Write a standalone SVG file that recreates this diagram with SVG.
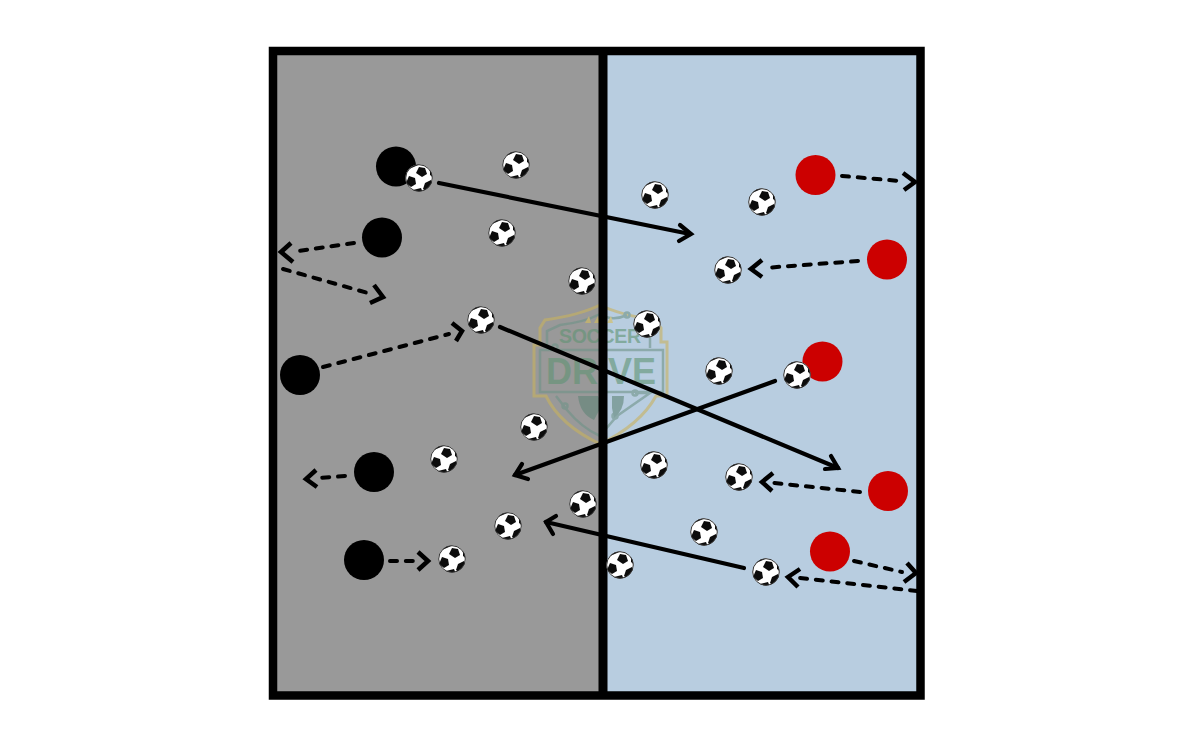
<svg xmlns="http://www.w3.org/2000/svg" width="1200" height="750" viewBox="0 0 1200 750">
<style>
.solid{fill:none;stroke:#000;stroke-width:4.2;stroke-linecap:round;stroke-linejoin:miter}
.dash{fill:none;stroke:#000;stroke-width:4;stroke-dasharray:7 8.8;stroke-linecap:round}
.head{fill:none;stroke:#000;stroke-width:4.5;stroke-linejoin:miter}
.blk{fill:#000}
.red{fill:#cc0000}
.lg{fill:none;stroke:#c9b25e;stroke-width:3}
.lb{fill:none;stroke:#6f9488;stroke-width:2.5}
.lt{font-family:"Liberation Sans",Arial,sans-serif;font-weight:700;fill:#5f9373}
</style>
<defs>
<clipPath id="bc"><circle r="13.5"/></clipPath>
<g id="ball">
<circle r="13.5" fill="#fff"/>
<g clip-path="url(#bc)" fill="#0c0c0c">
<polygon points="0,-11 6,-10 8,-4 3,-1 -3,-5"/>
<polygon points="-10,-2 -4,0 -3,6 -8,9 -13,5"/>
<polygon points="6,5 12,2 15,9 9,15 4,11"/>
<polygon points="-6,-15 2,-15 -3,-12 -10,-9"/>
<polygon points="-6,12 2,10 4,15 -5,16"/>
<polygon points="11,-11 15,-8 15,0 11,-3"/>
</g>
<circle r="13.3" fill="none" stroke="#333" stroke-width="1"/>
</g>
</defs>
<rect width="1200" height="750" fill="#fff"/>
<rect x="273" y="51" width="330" height="645" fill="#999"/>
<rect x="603" y="51" width="317" height="645" fill="#b8cde0"/>
<g id="logo" opacity="0.6">
<path class="lg" d="M545 320Q580 315 600 305Q620 315 655 320L661 328V342H667V396H656Q640 425 600 444Q560 425 546 396H534V345H540V328Z"/>
<path class="lb" d="M547 348V331L560 325Q585 322 600 314Q612 322 627 315M650 348V331L640 326"/>
<rect class="lb" x="540" y="350" width="123" height="42"/>
<path class="lb" d="M556 396L567 410Q582 428 600 436M635 393H650L617 416L605 430"/>
<circle class="lb" cx="555" cy="347" r="2.5"/><circle class="lb" cx="627" cy="315" r="2.5"/>
<circle class="lb" cx="635" cy="393" r="2.5"/><circle class="lb" cx="565" cy="406" r="2.5"/><circle class="lb" cx="615" cy="416" r="2.5"/>
<path d="M578 396H598L602 405L594 420Q580 414 578 396ZM612 396H624Q624 410 614 418L612 408Z" fill="#5f8577"/>
<text class="lt" x="559" y="343" font-size="19.5" textLength="82">SOCCER</text>
<text class="lt" x="546" y="384" font-size="36" textLength="110">DRIVE</text>
<polygon points="589,316 591,323 585,323" fill="#d8bf5a"/>
<polygon points="598,316 600,323 594,323" fill="#d8bf5a"/>
<polygon points="611,316 613,323 607,323" fill="#d8bf5a"/>
</g>
<g id="field" fill="none" stroke="#000">
<rect x="273" y="51" width="647.5" height="644.5" stroke-width="8.5"/>
<line x1="603" y1="51" x2="603" y2="696" stroke-width="9"/>
</g>
<g id="connectors">
<path class="solid" d="M439 183L690 234"/><path class="solid" d="M680 225L691 234L679 241"/>
<path class="solid" d="M500 327L838 468"/><path class="solid" d="M825 469L838 468L831 456"/>
<path class="solid" d="M775 381L515 475"/><path class="solid" d="M522 464L515 475L528 479"/>
<path class="solid" d="M744 568L546 522"/><path class="solid" d="M556 516L546 522L553 534"/>
<path class="dash" d="M842 176L900 181"/><path class="head" d="M903 173L915 182L904 190"/>
<path class="dash" d="M858 261L764 268"/><path class="head" d="M762 260L751 269L762 277"/>
<path class="dash" d="M860 492L774 483"/><path class="head" d="M773 473L762 482L772 491"/>
<path class="dash" d="M854 561L902 572"/><path class="head" d="M907 563L916 573L904 582"/>
<path class="dash" d="M917 591L800 578"/><path class="head" d="M800 569L788 577L798 587"/>
<path class="dash" d="M354 243L298 251"/><path class="head" d="M291 243L281 252L293 262"/>
<path class="dash" d="M283 269L368 293"/><path class="head" d="M374 285L383 297L370 303"/>
<path class="dash" d="M323 367L449 334"/><path class="head" d="M452 323L462 331L456 341"/>
<path class="dash" d="M345 476L318 478"/><path class="head" d="M316 470L306 479L317 487"/>
<path class="dash" d="M390 561L414 561"/><path class="head" d="M418 552L428 561L418 570"/>
</g>
<g id="player-b1"><circle class="blk" cx="396" cy="166.500" r="20"/></g>
<g id="player-b2"><circle class="blk" cx="382" cy="237.500" r="20"/></g>
<g id="player-b3"><circle class="blk" cx="300" cy="375" r="20"/></g>
<g id="player-b4"><circle class="blk" cx="374" cy="472" r="20"/></g>
<g id="player-b5"><circle class="blk" cx="364" cy="560" r="20"/></g>
<g id="player-r1"><circle class="red" cx="815.500" cy="175" r="20"/></g>
<g id="player-r2"><circle class="red" cx="887" cy="259.500" r="20"/></g>
<g id="player-r3"><circle class="red" cx="822.500" cy="361.500" r="20"/></g>
<g id="player-r4"><circle class="red" cx="888" cy="491" r="20"/></g>
<g id="player-r5"><circle class="red" cx="830" cy="551.500" r="20"/></g>
<g id="balls">
<use href="#ball" x="419" y="178"/><use href="#ball" x="516" y="165"/><use href="#ball" x="655" y="195"/>
<use href="#ball" x="762" y="202"/><use href="#ball" x="502" y="233"/><use href="#ball" x="728" y="270"/>
<use href="#ball" x="582" y="281"/><use href="#ball" x="481" y="320"/><use href="#ball" x="647" y="324"/>
<use href="#ball" x="719" y="371"/><use href="#ball" x="797" y="375"/><use href="#ball" x="534" y="427"/>
<use href="#ball" x="444" y="459"/><use href="#ball" x="654" y="465"/><use href="#ball" x="739" y="477"/>
<use href="#ball" x="583" y="504"/><use href="#ball" x="508" y="526"/><use href="#ball" x="704" y="532"/>
<use href="#ball" x="620" y="565"/><use href="#ball" x="766" y="572"/><use href="#ball" x="452" y="559"/>
</g>
</svg>
